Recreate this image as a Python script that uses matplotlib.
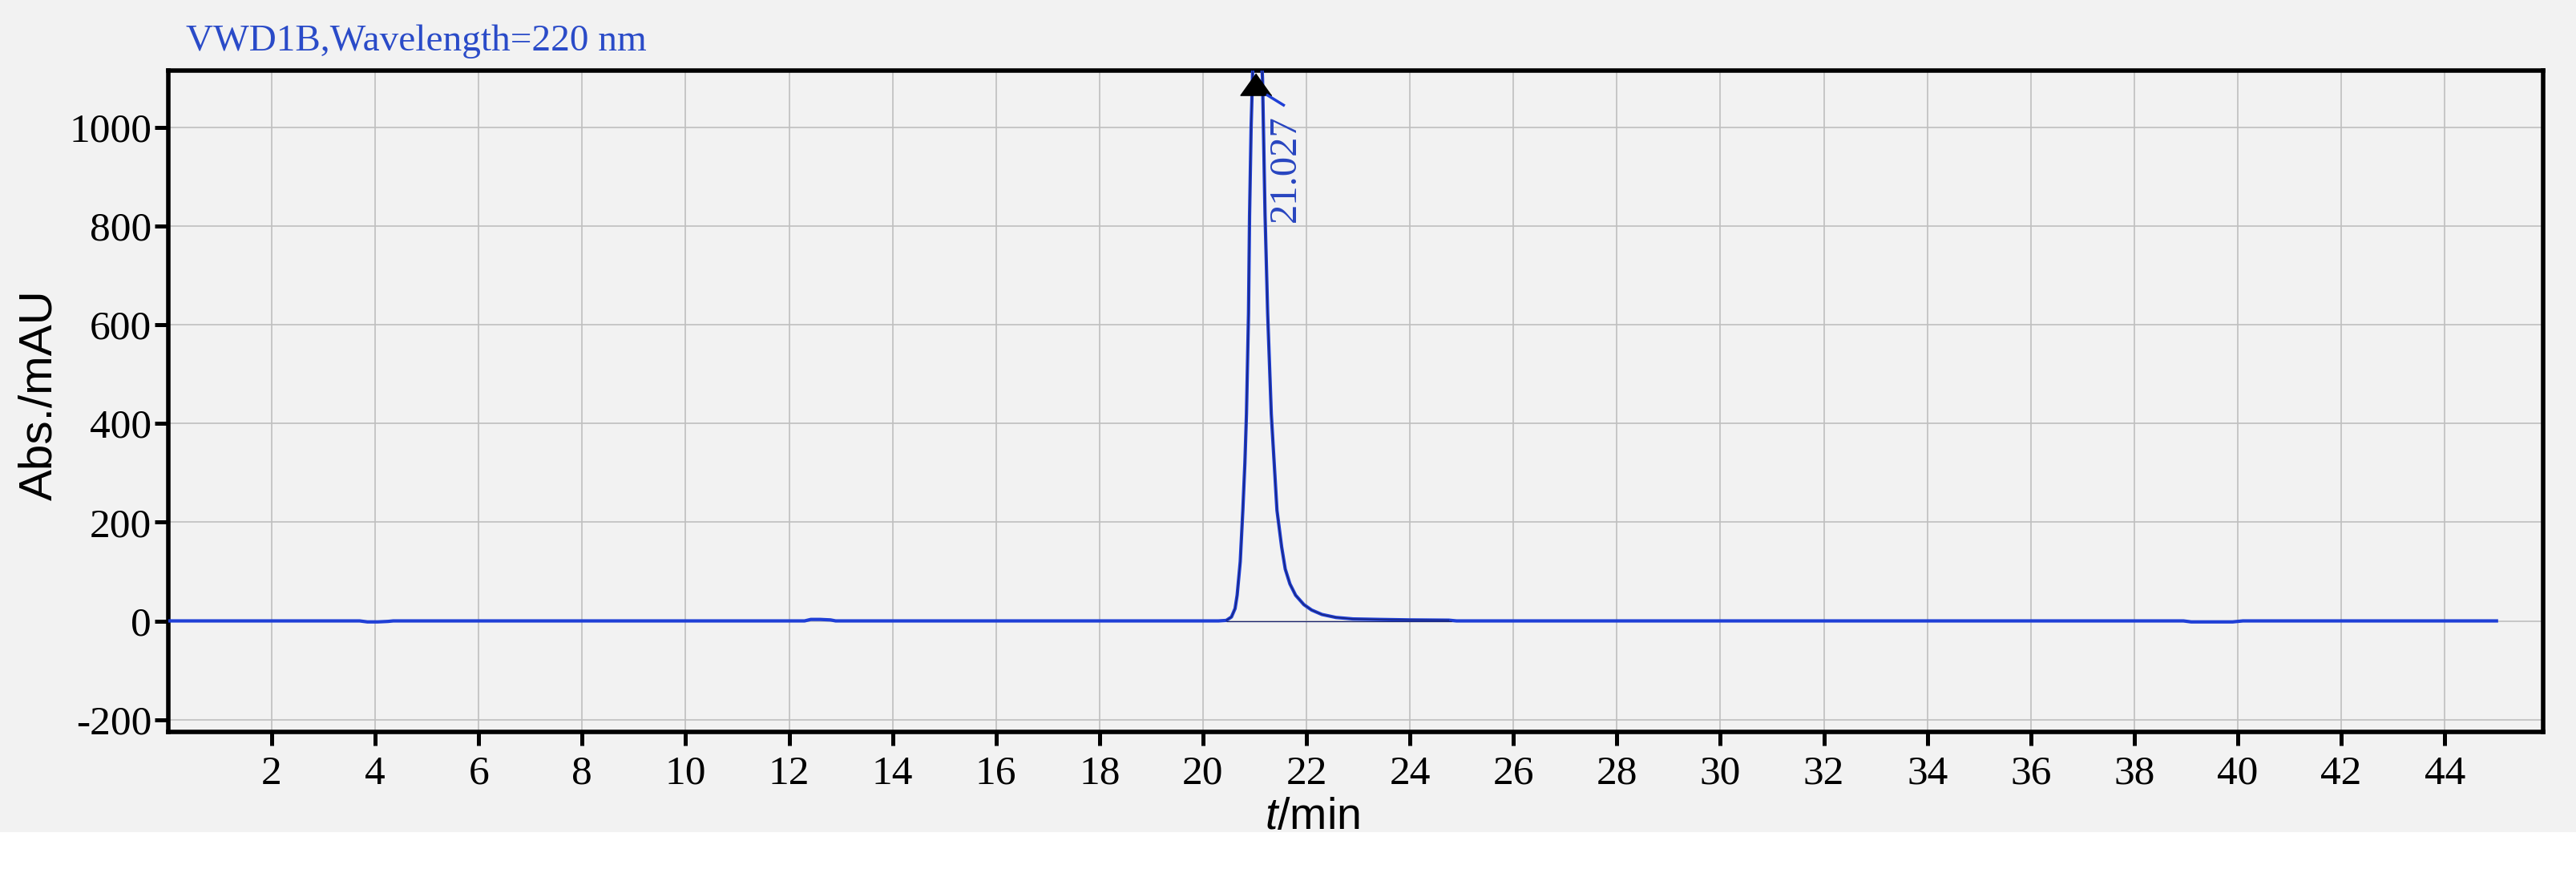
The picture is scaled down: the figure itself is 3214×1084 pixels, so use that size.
import matplotlib
matplotlib.use("Agg")
import matplotlib.pyplot as plt
from matplotlib.patches import Rectangle
import numpy as np

# ---- data ----
time_min = [0.03, 3.70, 3.85, 4.05, 4.25, 4.35,
            12.30, 12.42, 12.60, 12.80, 12.90,
            20.30, 20.45, 20.55, 20.62, 20.66, 20.72, 20.77, 20.81, 20.84, 20.86,
            20.88, 20.90, 20.93, 20.97, 21.03, 21.10, 21.15, 21.20, 21.25, 21.32,
            21.43, 21.52, 21.59, 21.68, 21.79, 21.95, 22.10, 22.30, 22.57, 22.90,
            23.40, 24.00, 24.75, 24.90,
            38.95, 39.10, 39.90, 40.10, 45.00]
absorbance = [0, 0, -2, -2, -1, 0,
              0, 3, 3, 2, 0,
              0, 1, 8, 25, 52, 120, 224, 320, 419, 520,
              623, 821, 1000, 1150, 1300, 1200, 1100, 821, 623, 419,
              224, 150, 105, 75, 52, 33, 22, 13, 7, 4,
              3, 2, 1.5, 0,
              0, -2, -2, 0, 0]

peak_time = 21.027
peak_label = "21.027"
peak_window = (20.40, 24.80)

x_ticks = list(range(2, 46, 2))
y_ticks = [-200, 0, 200, 400, 600, 800, 1000]
title_text = "VWD1B,Wavelength=220 nm"
xlabel_text = r"$t$/min"
ylabel_text = "Abs./mAU"

# ---- style ----
plt.rcParams['mathtext.fontset'] = 'custom'
plt.rcParams['mathtext.it'] = 'Liberation Sans:italic'
plt.rcParams['mathtext.rm'] = 'Liberation Sans'
plt.rcParams['axes.unicode_minus'] = False

bg = '#f2f2f2'
blue = '#1f3fd6'
dark = '#1a2470'

fig = plt.figure(figsize=(32.14, 10.84), dpi=100, facecolor=bg)
fig.patches.append(Rectangle((0, 0), 1, 0.0424, transform=fig.transFigure,
                             facecolor='white', edgecolor='none', zorder=-1))
ax = fig.add_axes([0.0653, 0.1577, 0.9219, 0.7611])
ax.set_facecolor(bg)

t = np.array(time_min)
a = np.array(absorbance)
ax.plot(t, a, color=blue, lw=3.0, zorder=3)
m = (t >= peak_window[0]) & (t <= peak_window[1])
ax.plot(t[m], a[m], color=dark, lw=0.9, zorder=4)
ax.hlines(0, peak_window[0] + 0.05, peak_window[1], color=dark, lw=0.9, zorder=4)

ax.set_xlim(0.0, 45.9)
ax.set_ylim(-225, 1115)

# off-scale arrow at the peak top
ax.plot([peak_time], [1088], marker=[(0, 0.7), (-1, -0.7), (1, -0.7)],
        markersize=28, color='black', zorder=5, clip_on=False)
ax.plot([peak_time + 0.22, peak_time + 0.53], [1065, 1045], color=blue, lw=2.5, zorder=5)
ax.text(peak_time + 0.56, 917, peak_label, rotation=90, ha='center', va='center',
        fontsize=35, family='Liberation Serif', color='#2845c0', zorder=6)

ax.set_xticks(x_ticks)
ax.set_yticks(y_ticks)
ax.grid(True, color='#bfbfbf', lw=1.2)
ax.set_axisbelow(True)
ax.tick_params(axis='both', direction='out', length=12, width=3.6, colors='black',
               labelsize=37)
ax.tick_params(axis='x', pad=9)
ax.tick_params(axis='y', pad=3)
for lab in ax.get_xticklabels() + ax.get_yticklabels():
    lab.set_family('Liberation Serif')
for s in ax.spines.values():
    s.set_linewidth(4.0)
    s.set_color('black')

ax.set_ylabel(ylabel_text, fontsize=42, family='Liberation Sans')
ax.yaxis.set_label_coords(-0.045, 0.51)
ax.set_xlabel(xlabel_text, fontsize=40, family='Liberation Sans')
ax.xaxis.set_label_coords(0.4816, -0.098)

fig.text(232 / 3214, 1 - 63 / 1084, title_text, fontsize=34, family='Liberation Serif',
         color='#2a4bc8', ha='left', va='baseline')

fig.savefig('out.png', dpi=100, facecolor=bg)
